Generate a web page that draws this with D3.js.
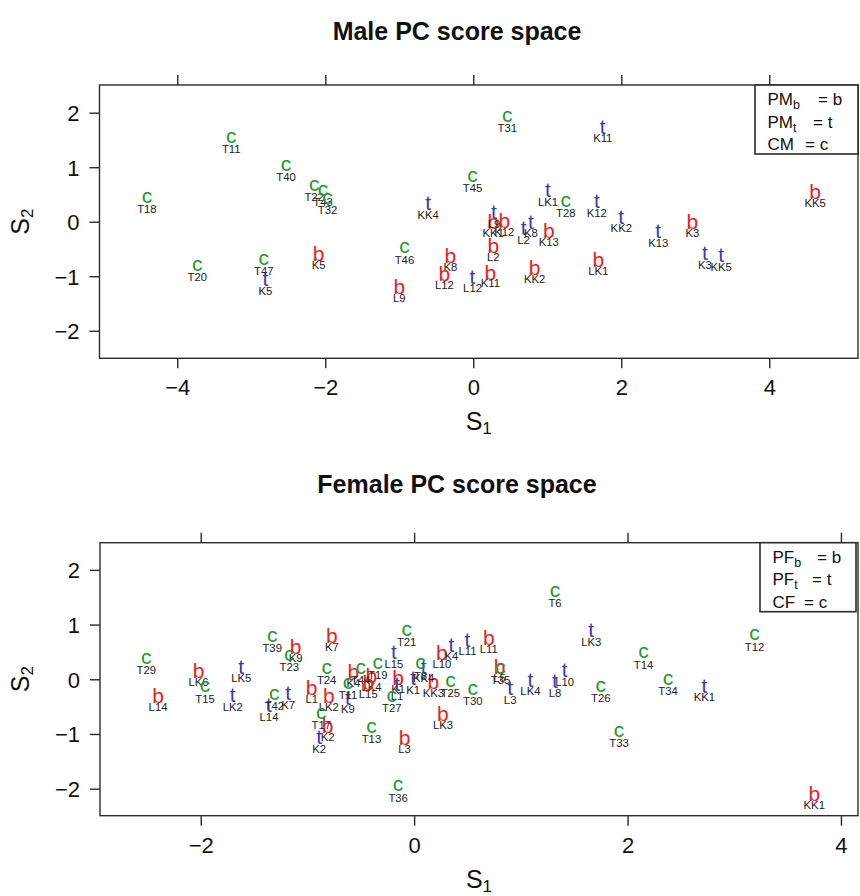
<!DOCTYPE html>
<html>
<head>
<meta charset="utf-8">
<script src="https://cdn.jsdelivr.net/npm/d3@7"></script>
<style>
  body { margin: 0; background: #fff; }
  svg text { font-family: "Liberation Sans", Arial, Helvetica, sans-serif; }
</style>
</head>
<body>
<svg id="chart" width="860" height="896"></svg>
<script>
// male PC scores: [label, S1, S2]
var maleB = [
  ["K5", -2.09, -0.58], ["L9", -1.00, -1.19], ["K8", -0.31, -0.61], ["L12", -0.39, -0.94],
  ["KK1", 0.27, 0.00], ["K12", 0.42, 0.03], ["L2", 0.27, -0.43], ["K11", 0.23, -0.92],
  ["KK2", 0.83, -0.83], ["K13", 1.02, -0.15], ["LK1", 1.69, -0.69], ["K3", 2.96, 0.01],
  ["KK5", 4.62, 0.56]
];
var maleT = [
  ["K5", -2.81, -1.05], ["KK4", -0.61, 0.34], ["L12", -0.01, -1.01], ["L9", 0.28, 0.18],
  ["L2", 0.68, -0.12], ["K8", 0.78, 0.00], ["LK1", 1.01, 0.58], ["K12", 1.67, 0.38],
  ["K11", 1.75, 1.74], ["KK2", 2.00, 0.09], ["K13", 2.50, -0.17], ["K3", 3.13, -0.58],
  ["KK5", 3.35, -0.61]
];
var maleC = [
  ["T18", -4.41, 0.44], ["T11", -3.27, 1.54], ["T20", -3.73, -0.81], ["T40", -2.53, 1.03],
  ["T47", -2.83, -0.70], ["T22", -2.15, 0.67], ["T43", -2.03, 0.58], ["T32", -1.97, 0.43],
  ["T46", -0.93, -0.48], ["T45", -0.01, 0.83], ["T31", 0.46, 1.93], ["T28", 1.25, 0.37]
];

// female PC scores: [label, S1, S2]
var femaleB = [
  ["LK6", -2.02, 0.17], ["L14", -2.40, -0.29], ["K9", -1.11, 0.61], ["L1", -0.96, -0.15],
  ["K7", -0.77, 0.81], ["LK2", -0.80, -0.29], ["K2", -0.81, -0.84], ["K4", -0.57, 0.14],
  ["LK4", -0.40, 0.08], ["L15", -0.43, -0.05], ["K1", -0.15, 0.03], ["L3", -0.09, -1.06],
  ["KK3", 0.18, -0.04], ["LK3", 0.27, -0.63], ["L10", 0.26, 0.50], ["L11", 0.70, 0.76],
  ["L5", 0.80, 0.23], ["KK1", 3.75, -2.08]
];
var femaleT = [
  ["LK5", -1.62, 0.23], ["LK2", -1.70, -0.29], ["L14", -1.36, -0.47], ["K7", -1.18, -0.26],
  ["K2", -0.89, -1.06], ["K9", -0.62, -0.34], ["L15", -0.19, 0.49], ["L1", -0.16, -0.09],
  ["K1", -0.01, 0.02], ["KK4", 0.09, 0.23], ["K4", 0.35, 0.63], ["L11", 0.50, 0.72],
  ["L3", 0.90, -0.16], ["LK4", 1.09, -0.01], ["L8", 1.32, -0.04], ["L10", 1.41, 0.17],
  ["LK3", 1.66, 0.90], ["KK1", 2.72, -0.12]
];
var femaleC = [
  ["T29", -2.51, 0.38], ["T15", -1.96, -0.14], ["T39", -1.33, 0.79], ["T23", -1.17, 0.44],
  ["T42", -1.31, -0.27], ["T24", -0.82, 0.20], ["T11", -0.62, -0.07], ["T17", -0.87, -0.62],
  ["T44", -0.50, 0.20], ["T19", -0.34, 0.29], ["T13", -0.40, -0.88], ["T27", -0.21, -0.32],
  ["T36", -0.15, -1.95], ["T21", -0.07, 0.90], ["T8", 0.06, 0.28], ["T25", 0.34, -0.04],
  ["T30", 0.55, -0.18], ["T35", 0.81, 0.20], ["T6", 1.32, 1.61], ["T26", 1.75, -0.13],
  ["T33", 1.92, -0.95], ["T14", 2.15, 0.48], ["T34", 2.38, 0.00], ["T12", 3.19, 0.81]
];

var maleXTicks = [-4, -2, 0, 2, 4];
var femaleXTicks = [-2, 0, 2, 4];
var yTicks = [-2, -1, 0, 1, 2];
var maleLegend = [["PM", "b", "b"], ["PM", "t", "t"], ["CM", "", "c"]];
var femaleLegend = [["PF", "b", "b"], ["PF", "t", "t"], ["CF", "", "c"]];

var colors = {b: "#f01c1c", t: "#3b3cb0", c: "#1f9a2a"};
// vertical offset (in em) from visual centre to baseline of each glyph
var glyphShift = {b: 0.365, t: 0.33, c: 0.26};
var symSize = 21;
var ink = "#2b2b2b";

var svg = d3.select("#chart");

function drawPanel(o) {
  var x = d3.scaleLinear().domain(o.xDomain).range([o.left, o.right]);
  var y = d3.scaleLinear().domain(o.yDomain).range([o.bottom, o.top]);
  var g = svg.append("g");

  // title
  g.append("text")
    .attr("x", 457).attr("y", o.titleY)
    .attr("text-anchor", "middle")
    .attr("font-size", 25).attr("font-weight", "bold")
    .attr("fill", "#111")
    .text(o.title);

  // axes
  var fmt = function(d) { return d < 0 ? "\u2212" + (-d) : "" + d; };
  var ax = g.append("g").attr("transform", "translate(0," + o.bottom + ")")
    .call(d3.axisBottom(x).tickValues(o.xTicks).tickSize(10).tickFormat(fmt));
  ax.selectAll("text").attr("y", 37).attr("dy", null);
  var axTop = g.append("g").attr("transform", "translate(0," + o.top + ")")
    .call(d3.axisTop(x).tickValues(o.xTicks).tickSize(10).tickFormat(""));
  var ay = g.append("g").attr("transform", "translate(" + o.left + ",0)")
    .call(d3.axisLeft(y).tickValues(yTicks).tickSize(10).tickPadding(10).tickFormat(fmt));
  ay.selectAll("text").attr("dy", "0.36em");
  [ax, axTop, ay].forEach(function(a) {
    a.select(".domain").remove();
    a.selectAll("line").attr("stroke", ink).attr("stroke-width", 1.4);
    a.selectAll("text").attr("font-size", 22).attr("fill", "#111")
      .attr("font-family", "Liberation Sans, Arial, sans-serif");
  });

  // box
  g.append("rect")
    .attr("x", o.left).attr("y", o.top)
    .attr("width", o.right - o.left).attr("height", o.bottom - o.top)
    .attr("fill", "none").attr("stroke", ink).attr("stroke-width", 1.4);

  // axis titles
  var xl = g.append("text")
    .attr("x", (o.left + o.right) / 2).attr("y", o.bottom + 72)
    .attr("text-anchor", "middle").attr("font-size", 25).attr("fill", "#111");
  xl.append("tspan").text("S");
  xl.append("tspan").attr("font-size", 17).attr("dy", 4).text("1");
  var yl = g.append("text")
    .attr("transform", "translate(29," + (o.top + o.bottom) / 2 + ") rotate(-90)")
    .attr("text-anchor", "middle").attr("font-size", 25).attr("fill", "#111");
  yl.append("tspan").text("S");
  yl.append("tspan").attr("font-size", 17).attr("dy", 4).text("2");

  // points: letter symbol + specimen label
  o.groups.forEach(function(grp) {
    var sym = grp[0], data = grp[1];
    var pts = g.append("g");
    data.forEach(function(d) {
      var px = x(d[1]), py = y(d[2]);
      pts.append("text")
        .attr("x", px).attr("y", py + glyphShift[sym] * symSize)
        .attr("text-anchor", "middle").attr("font-size", symSize)
        .attr("fill", colors[sym]).text(sym);
      pts.append("text")
        .attr("x", px).attr("y", py + 15.6)
        .attr("text-anchor", "middle").attr("font-size", 11.3)
        .attr("fill", "#222").text(d[0]);
    });
  });

  // legend
  var lg = g.append("g");
  lg.append("rect")
    .attr("x", o.legX).attr("y", o.top)
    .attr("width", o.legW).attr("height", 69)
    .attr("fill", "#fff").attr("stroke", ink).attr("stroke-width", 1.6);
  o.legend.forEach(function(row, i) {
    var t = lg.append("text")
      .attr("x", o.legX + 12.5).attr("y", o.top + 20 + i * 22.5)
      .attr("font-size", 17).attr("fill", "#111");
    t.append("tspan").text(row[0]);
    if (row[1]) t.append("tspan").attr("font-size", 12.5).attr("dy", 4).text(row[1]);
    t.append("tspan").attr("x", o.eqX[i]).attr("dy", row[1] ? -4 : 0).text("= " + row[2]);
  });
}

drawPanel({
  title: "Male PC score space", titleY: 40,
  left: 99.5, right: 858, top: 85, bottom: 358.3,
  xDomain: [-5.051, 5.199], yDomain: [-2.505, 2.508],
  xTicks: maleXTicks,
  groups: [["b", maleB], ["t", maleT], ["c", maleC]],
  legend: maleLegend, legX: 755, legW: 103, eqX: [818, 813, 805]
});

drawPanel({
  title: "Female PC score space", titleY: 493,
  left: 100, right: 858, top: 542.7, bottom: 815.7,
  xDomain: [-2.944, 4.160], yDomain: [-2.494, 2.497],
  xTicks: femaleXTicks,
  groups: [["b", femaleB], ["t", femaleT], ["c", femaleC]],
  legend: femaleLegend, legX: 760, legW: 96, eqX: [817, 812, 804]
});
</script>
</body>
</html>
